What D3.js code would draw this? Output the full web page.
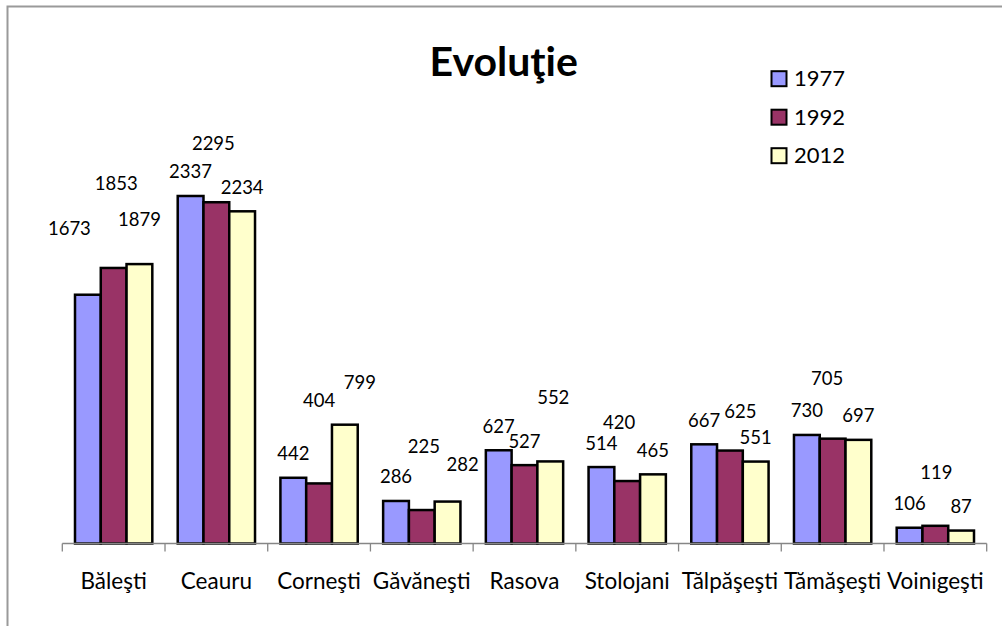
<!DOCTYPE html>
<html>
<head>
<meta charset="utf-8">
<script src="https://cdn.jsdelivr.net/npm/d3@7/dist/d3.min.js"></script>
<style>
  html, body { margin: 0; padding: 0; background: #fff; }
  svg { display: block; }
  text { font-family: Lato, "Open Sans", sans-serif; fill: #000; }
</style>
</head>
<body>
<svg id="chart" width="1002" height="626"></svg>
<script>
// ---- data ----
const categories = ["Băleşti", "Ceauru", "Corneşti", "Găvăneşti", "Rasova", "Stolojani", "Tălpăşeşti", "Tămăşeşti", "Voinigeşti"];
const seriesNames = ["1977", "1992", "2012"];
const values1977 = [1673, 2337, 442, 286, 627, 514, 667, 730, 106];
const values1992 = [1853, 2295, 404, 225, 527, 420, 625, 705, 119];
const values2012 = [1879, 2234, 799, 282, 552, 465, 551, 697, 87];
const title = "Evoluţie";

// ---- manual label shifts (as moved in the original) ----
const labelShiftX = [
  [-18.5, 2.5, 0], [0, -3, 0], [0, 0, 15], [0, 2, 15], [0, 0, 3],
  [0, -8, 0], [0, 10.5, 0], [0, -5.5, 0], [0, 1, 0]
];
const labelShiftY = [
  [-42, -60, -21], [0, -35, 0], [0, -59, -18], [0, -40, -13], [0, 0, -40],
  [0, -35, 0], [0, -15, 0], [0, -36, 0], [0, -29, 0]
];

const colors = ["#9999FF", "#993366", "#FFFFCC"];
const seriesValues = [values1977, values1992, values2012];

const svg = d3.select("#chart");

// chart border
svg.append("path")
  .attr("d", "M7.5,626 L7.5,6.5 L1002,6.5")
  .attr("fill", "none").attr("stroke", "#9a9a9a").attr("stroke-width", 2);

const left = 62.3, right = 986.7, baseY = 543.5;
const x0 = d3.scaleBand().domain(categories).range([left, right]).paddingInner(0).paddingOuter(0);
const innerPad = 12.7;
const x1 = d3.scaleBand().domain(seriesNames).range([innerPad, x0.bandwidth() - innerPad]).padding(0);
const y = d3.scaleLinear().domain([0, 2500]).range([baseY, baseY - 2500 / 6.725]);

// bars
const groups = svg.append("g").selectAll("g")
  .data(categories)
  .join("g")
  .attr("transform", d => `translate(${x0(d)},0)`);

groups.selectAll("rect")
  .data((d, i) => seriesNames.map((s, j) => ({ s, j, v: seriesValues[j][i] })))
  .join("rect")
  .attr("x", d => x1(d.s))
  .attr("y", d => y(d.v))
  .attr("width", x1.bandwidth())
  .attr("height", d => baseY - y(d.v))
  .attr("fill", d => colors[d.j])
  .attr("stroke", "#000")
  .attr("stroke-width", 2.5);

// axis
const axis = svg.append("g").attr("transform", `translate(0,${baseY})`);
axis.append("line").attr("x1", left).attr("x2", right).attr("y1", 0).attr("y2", 0)
  .attr("stroke", "#868686").attr("stroke-width", 1.3);
const tickPos = categories.map(c => x0(c)).concat([right]);
axis.selectAll("line.tick").data(tickPos).join("line")
  .attr("class", "tick")
  .attr("x1", d => d).attr("x2", d => d).attr("y1", 0).attr("y2", 8)
  .attr("stroke", "#868686").attr("stroke-width", 1.3);
axis.selectAll("text.cat").data(categories).join("text")
  .attr("class", "cat")
  .attr("x", d => x0(d) + x0.bandwidth() / 2)
  .attr("y", 38)
  .attr("dy", "0.35em")
  .attr("text-anchor", "middle")
  .attr("font-size", 22.5)
  .text(d => d);

// value labels
groups.selectAll("text")
  .data((d, i) => seriesNames.map((s, j) => ({ s, j, i, v: seriesValues[j][i] })))
  .join("text")
  .attr("x", d => x1(d.s) + x1.bandwidth() / 2 + labelShiftX[d.i][d.j])
  .attr("y", d => y(d.v) - 24 + labelShiftY[d.i][d.j])
  .attr("dy", "0.35em")
  .attr("text-anchor", "middle")
  .attr("font-size", 18.5)
  .text(d => d.v);

// title
svg.append("text")
  .attr("x", 503.7).attr("y", 76)
  .attr("text-anchor", "middle")
  .attr("font-size", 41)
  .attr("font-weight", "bold")
  .text(title);

// legend
const legend = svg.append("g").selectAll("g").data(seriesNames).join("g")
  .attr("transform", (d, i) => `translate(771,${70.7 + i * 38.5})`);
legend.append("rect").attr("x", 0.5).attr("y", 0.5).attr("width", 15).attr("height", 15)
  .attr("fill", (d, i) => colors[i]).attr("stroke", "#000").attr("stroke-width", 2);
legend.append("text").attr("x", 23).attr("y", 8).attr("dy", "0.35em")
  .attr("font-size", 22).text(d => d);
</script>
</body>
</html>
